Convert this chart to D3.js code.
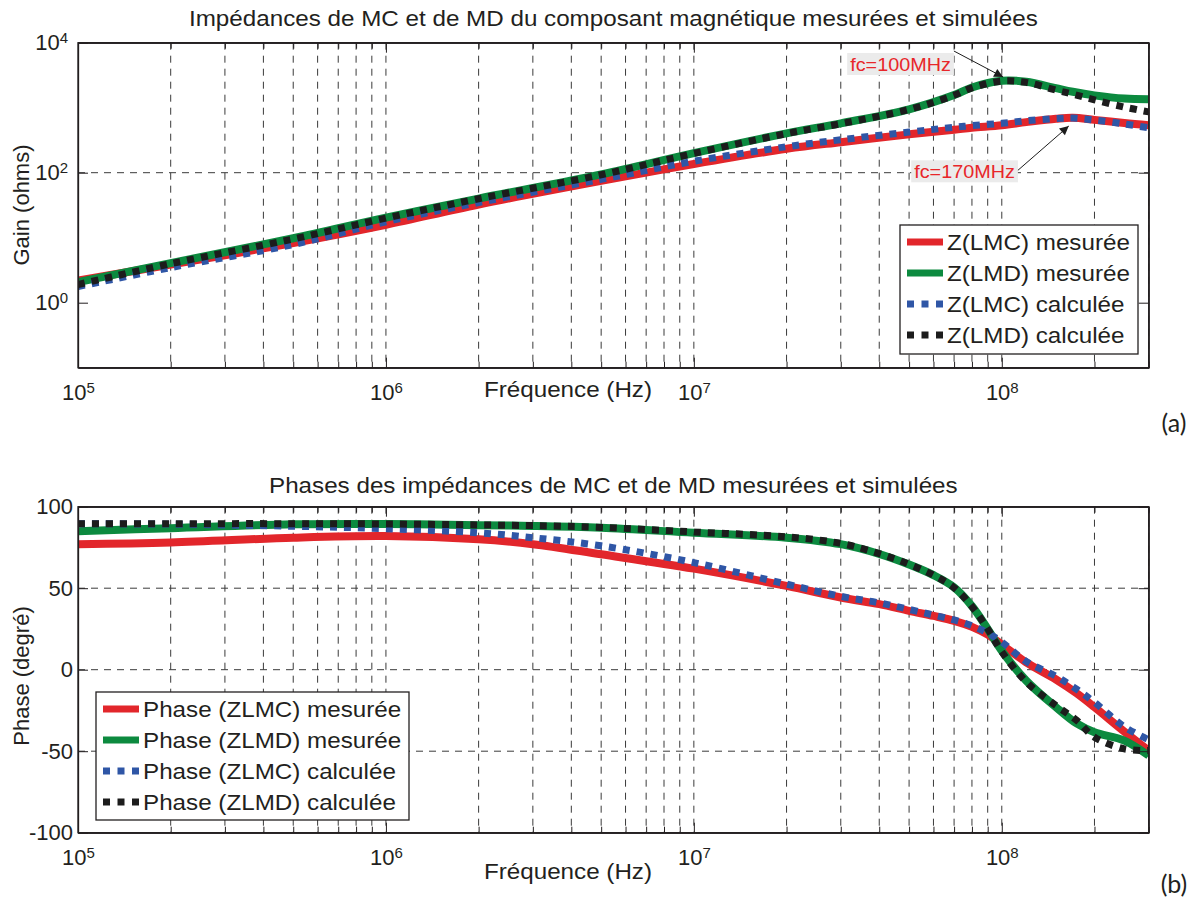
<!DOCTYPE html>
<html>
<head>
<meta charset="utf-8">
<script src="https://cdn.jsdelivr.net/npm/d3@7"></script>
<style>
body { margin: 0; background: #fff; }
text { font-family: "Liberation Sans", Arial, sans-serif; fill: #231f20; }
</style>
</head>
<body>
<svg id="chart" width="1200" height="901"></svg>
<script>
// DATA

// gain plot (ohms)
var freqGain = [1e5, 2e5, 5e5, 1e6, 2e6, 5e6, 1e7, 2e7, 3e7, 5e7, 7e7, 8e7, 1e8, 1.2e8, 1.5e8, 1.7e8, 2e8, 2.5e8, 3e8];
var gainLMCmes = [2.19, 3.85, 8.3, 15.8, 32.4, 75, 136, 233, 295, 389, 457, 490, 537, 600, 676, 700, 650, 580, 537];
var gainLMDmes = [2.07, 4.07, 9.8, 20.3, 40, 94, 200, 403, 575, 945, 1567, 2050, 2600, 2510, 1995, 1760, 1549, 1380, 1349];
var gainLMCcalc = [1.77, 3.47, 7.85, 17.6, 34.7, 79, 150, 251, 321, 422, 501, 530, 575, 630, 680, 692, 646, 562, 490];
var gainLMDcalc = [1.9, 3.98, 9.55, 20, 39.8, 93, 198, 400, 568, 940, 1550, 2020, 2570, 2450, 1862, 1620, 1318, 1023, 861];

// phase plot (degrees)
var freqPhase = [1e5, 2e5, 5e5, 1e6, 2e6, 3e6, 5e6, 1e7, 2e7, 3e7, 4e7, 5e7, 6e7, 7e7, 8e7, 9e7, 1e8, 1.2e8, 1.5e8, 1.75e8, 2e8, 2.5e8, 3e8];
var phaseLMCmes = [77, 78, 81, 82, 80, 77, 70.8, 62, 51.4, 44.3, 40.2, 36.1, 33, 30, 26.3, 21.5, 15.5, 4.5, -6, -14.5, -23, -38, -49.6];
var phaseLMDmes = [85, 86.8, 89.2, 89.4, 88.6, 88.2, 87.1, 84, 81, 77, 71, 64.5, 58, 50.5, 39, 25, 11.6, -6.7, -23, -33, -38.4, -43.5, -52.7];
var phaseLMCcalc = [89.5, 89.3, 88, 86.5, 84, 81, 76, 65.7, 52.5, 45, 41, 37, 33.5, 30.5, 27, 22.5, 17, 5, -4, -12, -20, -35, -43];
var phaseLMDcalc = [89.6, 89.6, 89.6, 89.4, 88.8, 88.4, 87.3, 84.5, 81.5, 77.5, 71.2, 64.7, 58, 50.3, 38.8, 25, 11, -7.5, -22, -31, -41.4, -48.6, -49.6];

// axes
var freqDomain = [1e5, 3e8];
var freqMajor = [1e5, 1e6, 1e7, 1e8];
var gainDomain = [0.1, 1e4];
var gainTicks = [1, 100, 10000];
var phaseDomain = [-100, 100];
var phaseTicks = [-100, -50, 0, 50, 100];

var gainLegend = ["Z(LMC) mesurée", "Z(LMD) mesurée", "Z(LMC) calculée", "Z(LMD) calculée"];
var phaseLegend = ["Phase (ZLMC) mesurée", "Phase (ZLMD) mesurée", "Phase (ZLMC) calculée", "Phase (ZLMD) calculée"];

// annotations : label, freq/gain of arrow tip, freq/gain of label centre
var fcNotes = [
	{ "label": "fc=100MHz", "f": 1.01e8, "g": 2960, "fl": 4.69e7, "gl": 4700 },
	{ "label": "fc=170MHz", "f": 1.65e8, "g": 522, "fl": 7.57e7, "gl": 105 }
];


// DRAWING AREA
var svg = d3.select("#chart");
var left = 78, right = 1148.7;
var colors = ["#e2262b", "#0c8a3f", "#2f56a6", "#1c1c1c"];
var FONT = 22;

var defs = svg.append("defs");
defs.append("marker")
	.attr("id", "arrow")
	.attr("viewBox", "0 0 10 10")
	.attr("refX", 10).attr("refY", 5)
	.attr("markerWidth", 11).attr("markerHeight", 9)
	.attr("markerUnits", "userSpaceOnUse")
	.attr("orient", "auto")
	.append("path").attr("d", "M0,0 L10,5 L0,10 z").style("fill", "#1c1c1c");

// the figure is slightly wider than tall, so stretch text horizontally
function stretch(sel, k) {
	sel.each(function() {
		var w = this.getComputedTextLength();
		d3.select(this).attr("textLength", w * k).attr("lengthAdjust", "spacingAndGlyphs");
	});
}

function minorTicks(domain) {
	var out = [];
	for (var e = 5; e <= 8; e++) {
		for (var m = 1; m <= 9; m++) {
			var v = m * Math.pow(10, e);
			if (v >= domain[0] && v <= domain[1]) out.push(v);
		}
	}
	return out;
}

function drawPanel(cfg) {
	var g = svg.append("g");
	var x = d3.scaleLog().domain(freqDomain).range([left, right]);
	var y = cfg.yScale;
	var top = y.range()[1], bottom = y.range()[0];

	// GRID
	var grid = g.append("g").attr("class", "grid")
		.style("stroke", "#3a3a3a").style("stroke-width", 1).style("stroke-dasharray", "7,6");
	grid.selectAll("line.v")
		.data(minorTicks(freqDomain).filter(function(d) { return d > freqDomain[0]; }))
		.enter().append("line")
		.attr("x1", function(d) { return x(d); }).attr("x2", function(d) { return x(d); })
		.attr("y1", top).attr("y2", bottom);
	grid.selectAll("line.h")
		.data(cfg.yTicks.slice(1, -1))
		.enter().append("line")
		.attr("x1", left).attr("x2", right)
		.attr("y1", function(d) { return y(d); }).attr("y2", function(d) { return y(d); });

	// CURVES
	var line = d3.line()
		.x(function(d) { return x(d[0]); })
		.y(function(d) { return y(d[1]); })
		.curve(d3.curveCatmullRom.alpha(0.5));

	var clipId = "clip" + cfg.id;
	defs.append("clipPath").attr("id", clipId)
		.append("rect").attr("x", left).attr("y", top).attr("width", right - left).attr("height", bottom - top);

	var curves = g.append("g").attr("clip-path", "url(#" + clipId + ")");
	cfg.series.forEach(function(s, i) {
		curves.append("path")
			.datum(d3.zip(cfg.freq, s))
			.attr("d", line)
			.style("fill", "none")
			.style("stroke", colors[i])
			.style("stroke-width", i < 2 ? 8 : 7)
			.style("stroke-dasharray", i < 2 ? null : "7,7")
			.style("stroke-linejoin", "round");
	});

	// AXES (matlab style : ticks inside, box all round)
	var axStyle = function(a) {
		a.select(".domain").style("stroke", "#231f20").style("stroke-width", 1.3);
		a.selectAll(".tick line").style("stroke", "#231f20");
	};
	var minor = minorTicks(freqDomain).filter(function(d) { return freqMajor.indexOf(d) < 0; });
	[[d3.axisBottom, bottom], [d3.axisTop, top]].forEach(function(p) {
		g.append("g").attr("transform", "translate(0," + p[1] + ")")
			.call(p[0](x).tickValues(minor).tickSize(-6).tickFormat("").tickSizeOuter(0))
			.call(axStyle);
	});
	g.append("g").attr("transform", "translate(0," + top + ")")
		.call(d3.axisTop(x).tickValues(freqMajor).tickSize(-10).tickFormat("").tickSizeOuter(0))
		.call(axStyle);
	var xAx = g.append("g").attr("transform", "translate(0," + bottom + ")")
		.call(d3.axisBottom(x).tickValues(freqMajor).tickSize(-10).tickPadding(17).tickFormat(function() { return "10"; }).tickSizeOuter(0))
		.call(axStyle);
	xAx.selectAll(".tick text")
		.style("font-size", "22px").style("fill", "#231f20")
		.each(function(d) {
			d3.select(this).append("tspan").attr("dy", "-0.5em").style("font-size", "15px")
				.text(Math.round(Math.log10(d)));
		});

	var yAx = g.append("g").attr("transform", "translate(" + left + ",0)")
		.call(d3.axisLeft(y).tickValues(cfg.yTicks).tickSize(-10).tickPadding(cfg.yPad).tickFormat(cfg.yFormat).tickSizeOuter(0))
		.call(axStyle);
	yAx.selectAll(".tick text").style("font-size", "22px").style("fill", "#231f20");
	if (cfg.log) {
		yAx.selectAll(".tick text").each(function(d) {
			d3.select(this).append("tspan").attr("dy", "-0.5em").style("font-size", "15px")
				.text(Math.round(Math.log10(d)));
		});
	}
	g.append("g").attr("transform", "translate(" + right + ",0)")
		.call(d3.axisRight(y).tickValues(cfg.yTicks).tickSize(-10).tickFormat("").tickSizeOuter(0))
		.call(axStyle);
	g.append("rect")
		.attr("x", left).attr("y", top).attr("width", right - left).attr("height", bottom - top)
		.style("fill", "none").style("stroke", "#231f20").style("stroke-width", 1.3);

	// TITLES AND LABELS
	var title = g.append("text").text(cfg.title)
		.attr("x", (left + right) / 2).attr("y", cfg.titleY)
		.attr("text-anchor", "middle").style("font-size", FONT + "px");
	stretch(title, 1.1);

	var xl = g.append("text").text("Fréquence (Hz)")
		.attr("x", 568).attr("y", cfg.xLabelY)
		.attr("text-anchor", "middle").style("font-size", FONT + "px");
	stretch(xl, 1.1);

	g.append("text").text(cfg.yLabel)
		.attr("transform", "translate(" + 29 + "," + cfg.yLabelMid + ") rotate(-90)")
		.attr("text-anchor", "middle").style("font-size", FONT + "px");

	g.append("text").text(cfg.tag)
		.attr("x", 1174).attr("y", cfg.tagY)
		.attr("text-anchor", "middle")
		.style("font-family", "Lato, 'Open Sans', sans-serif").style("font-size", "25px");

	// LEGEND
	var lg = g.append("g");
	lg.append("rect")
		.attr("x", cfg.legend.x).attr("y", cfg.legend.y)
		.attr("width", cfg.legend.w).attr("height", cfg.legend.h)
		.style("fill", "#fff").style("stroke", "#231f20").style("stroke-width", 1.3);
	cfg.legendLabels.forEach(function(lab, i) {
		var cy = cfg.legend.y + 17 + i * 31;
		lg.append("line")
			.attr("x1", cfg.legend.x + 7).attr("x2", cfg.legend.x + 43)
			.attr("y1", cy).attr("y2", cy)
			.style("stroke", colors[i]).style("stroke-width", 7)
			.style("stroke-dasharray", i < 2 ? null : "7,7.5");
		var t = lg.append("text").text(lab)
			.attr("x", cfg.legend.x + 47).attr("y", cy + 8)
			.style("font-size", FONT + "px");
		stretch(t, 1.1);
	});

	return { x: x, y: y, g: g };
}

var yGain = d3.scaleLog().domain(gainDomain).range([367.7, 42.7]);
var pGain = drawPanel({
	id: "a", yScale: yGain, yTicks: gainTicks, log: true, yPad: 10, yFormat: function() { return "10"; },
	freq: freqGain, series: [gainLMCmes, gainLMDmes, gainLMCcalc, gainLMDcalc],
	title: "Impédances de MC et de MD du composant magnétique mesurées et simulées", titleY: 26,
	xLabelY: 397, yLabel: "Gain (ohms)", yLabelMid: 205, tag: "(a)", tagY: 432,
	legend: { x: 900, y: 225, w: 238, h: 129 }, legendLabels: gainLegend
});

var yPhase = d3.scaleLinear().domain(phaseDomain).range([832.7, 506.7]);
drawPanel({
	id: "b", yScale: yPhase, yTicks: phaseTicks, log: false, yPad: 5, yFormat: function(d) { return String(d); },
	freq: freqPhase, series: [phaseLMCmes, phaseLMDmes, phaseLMCcalc, phaseLMDcalc],
	title: "Phases des impédances de MC et de MD mesurées et simulées", titleY: 493,
	xLabelY: 879, yLabel: "Phase (degré)", yLabelMid: 676, tag: "(b)", tagY: 893,
	legend: { x: 96, y: 692, w: 313, h: 128 }, legendLabels: phaseLegend
});

// fc ANNOTATIONS
fcNotes.forEach(function(n) {
	var x = pGain.x, y = pGain.y;
	var ag = svg.append("g");
	var t = ag.append("text").text(n.label)
		.attr("x", x(n.fl)).attr("y", y(n.gl) + 6.5)
		.attr("text-anchor", "middle")
		.style("font-size", "18px").style("fill", "#e8262a");
	stretch(t, 1.1);
	var bb = t.node().getBBox();
	ag.insert("rect", "text")
		.attr("x", bb.x - 3).attr("y", y(n.gl) - 11)
		.attr("width", bb.width + 6).attr("height", 22)
		.style("fill", "#ebebeb");
	var up = n.g > n.gl;
	ag.append("line")
		.attr("x1", bb.x + bb.width + 3).attr("y1", up ? y(n.gl) - 1 : y(n.gl) - 13)
		.attr("x2", x(n.f)).attr("y2", y(n.g))
		.style("stroke", "#1c1c1c").style("stroke-width", 1)
		.attr("marker-end", "url(#arrow)");
});
</script>
</body>
</html>
